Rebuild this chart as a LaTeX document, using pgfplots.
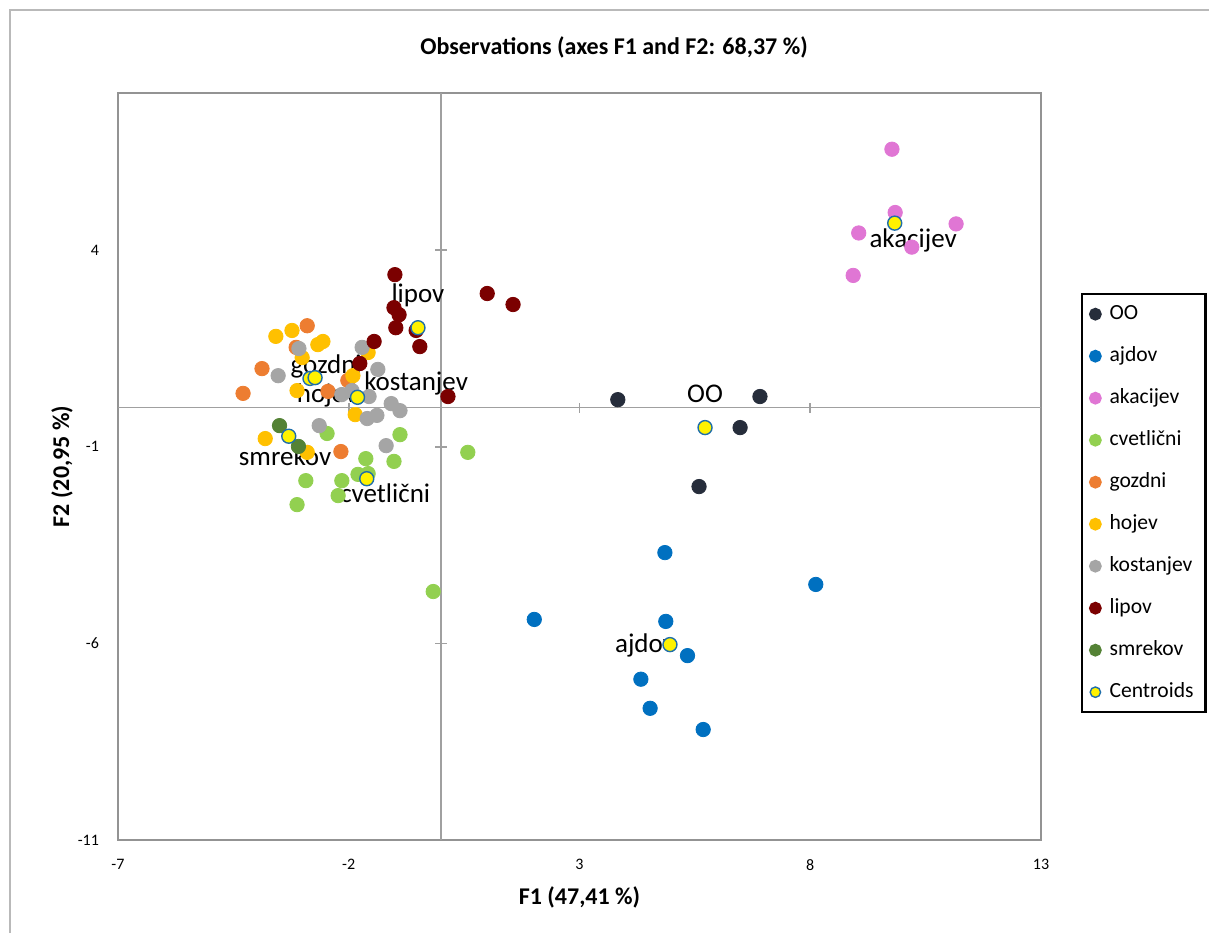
\documentclass[border=0pt]{standalone}
\usepackage{pgfplots}
\pgfplotsset{compat=1.18}
\usepackage{fontspec}
\setmainfont{Carlito}
\definecolor{cOO}{RGB}{38,45,59}
\definecolor{cajdov}{RGB}{0,112,192}
\definecolor{cakac}{RGB}{224,118,212}
\definecolor{ccvet}{RGB}{146,208,80}
\definecolor{cgozd}{RGB}{237,125,49}
\definecolor{choj}{RGB}{255,192,0}
\definecolor{ckost}{RGB}{165,165,165}
\definecolor{clip}{RGB}{123,0,0}
\definecolor{csmr}{RGB}{84,130,53}
\definecolor{ccedge}{RGB}{30,110,170}
\definecolor{zline}{RGB}{160,160,160}
\begin{document}
\begin{tikzpicture}
\useasboundingbox (0pt,0pt) rectangle (604.5pt,466.5pt);
\draw[gray!55, line width=0.7pt] (5pt,0pt) -- (5pt,461.5pt) -- (604.5pt,461.5pt);
\node[font=\fontsize{12}{14}\selectfont\bfseries] at (307pt,443pt) {Observations (axes F1 and F2: 68,37 \%)};
\begin{axis}[
  at={(59pt,46.5pt)}, anchor=south west,
  scale only axis, width=461.5pt, height=373.5pt,
  xmin=-7, xmax=13, ymin=-11, ymax=8,
  axis line style={gray!85, line width=0.8pt},
  xtick={-7,-2,3,8,13}, xticklabels={-7,-2,3,8,13},
  ytick={-11,-6,-1,4}, yticklabels={-11,-6,-1,4},
  major tick length=0pt,
  tick label style={font=\fontsize{8}{9}\selectfont},
  xticklabel style={yshift=-6pt},
  yticklabel style={xshift=-6pt},
  xlabel={F1 (47,41 \%)},
  ylabel={F2 (20,95 \%)},
  label style={font=\fontsize{12}{14}\selectfont\bfseries},
  xlabel style={at={(axis description cs:0.5,-0.0763)}, anchor=center},
  ylabel style={at={(axis description cs:-0.0607,0.5)}, anchor=center, rotate=0},
  clip=false,
  every axis plot/.append style={only marks, mark=*, mark size=3.6pt},
  legend cell align=left,
  legend image code/.code={\draw[#1, mark size=2.6pt] plot coordinates {(0pt,0pt)};},
  legend style={at={(1.0433,0.7323)}, anchor=north west, draw=black, line width=1.2pt,
    font=\fontsize{10.8}{12}\selectfont, inner xsep=4pt, inner ysep=5pt,
    row sep=11pt, column sep=4.5pt,
    nodes={inner sep=0pt, text height=7.5pt, text depth=2.5pt, text width=44pt, align=left},
    /tikz/every odd column/.append style={column sep=4.5pt}},
]
\draw[zline, line width=0.8pt] (axis cs:0,-11) -- (axis cs:0,8);
\draw[zline, line width=0.8pt] (axis cs:-7,0) -- (axis cs:13,0);
\draw[zline, line width=0.8pt] (axis cs:-2,0) ++(0pt,-2.5pt) -- ++(0pt,5pt);
\draw[zline, line width=0.8pt] (axis cs:3,0) ++(0pt,-2.5pt) -- ++(0pt,5pt);
\draw[zline, line width=0.8pt] (axis cs:8,0) ++(0pt,-2.5pt) -- ++(0pt,5pt);
\draw[zline, line width=0.8pt] (axis cs:0,4) ++(-3pt,0pt) -- ++(6pt,0pt);
\draw[zline, line width=0.8pt] (axis cs:0,-1) ++(-3pt,0pt) -- ++(6pt,0pt);
\draw[zline, line width=0.8pt] (axis cs:0,-6) ++(-3pt,0pt) -- ++(6pt,0pt);

\addplot[mark options={fill=cOO, draw=cOO}] coordinates {
(3.83,0.20) (6.91,0.28) (6.48,-0.51) (5.59,-2.01)};
\addlegendentry{OO}
\addplot[mark options={fill=cajdov, draw=cajdov}] coordinates {
(4.85,-3.69) (8.12,-4.50) (2.02,-5.39) (4.87,-5.44) (5.34,-6.31) (4.33,-6.91) (4.53,-7.65) (5.68,-8.19)};
\addlegendentry{ajdov}
\addplot[mark options={fill=cakac, draw=cakac}] coordinates {
(9.77,6.57) (9.84,4.96) (11.16,4.67) (9.05,4.44) (10.20,4.08) (8.93,3.36)};
\addlegendentry{akacijev}
\addplot[mark options={fill=ccvet, draw=ccvet}] coordinates {
(-2.47,-0.66) (-0.89,-0.69) (-1.63,-1.30) (-1.02,-1.37) (0.58,-1.14) (-2.93,-1.86)
(-2.15,-1.86) (-1.80,-1.70) (-1.58,-1.68) (-2.23,-2.24) (-3.12,-2.47) (-0.17,-4.68)};
\addlegendentry{cvetlični}
\addplot[mark options={fill=cgozd, draw=cgozd}] coordinates {
(-2.90,2.08) (-3.14,1.53) (-3.88,0.99) (-4.29,0.36) (-2.45,0.41) (-2.02,0.69) (-2.17,-1.12)};
\addlegendentry{gozdni}
\addplot[mark options={fill=choj, draw=choj}] coordinates {
(-3.58,1.81) (-3.23,1.96) (-2.67,1.60) (-2.56,1.68) (-3.01,1.27) (-3.12,0.43)
(-1.58,1.40) (-1.91,0.81) (-1.86,-0.18) (-3.81,-0.79) (-2.90,-1.14)};
\addlegendentry{hojev}
\addplot[mark options={fill=ckost, draw=ckost}] coordinates {
(-3.08,1.50) (-3.53,0.81) (-1.71,1.53) (-1.37,0.97) (-1.56,0.28) (-1.08,0.10)
(-0.89,-0.08) (-1.60,-0.28) (-1.39,-0.20) (-2.64,-0.46) (-1.19,-0.97) (-2.15,0.33) (-1.93,0.43)};
\addlegendentry{kostanjev}
\addplot[mark options={fill=clip, draw=clip}] coordinates {
(-1.00,3.38) (1.00,2.90) (1.56,2.62) (-1.02,2.54) (-0.91,2.36) (-0.98,2.03)
(-0.54,1.96) (-0.46,1.55) (-1.45,1.68) (-1.76,1.12) (0.15,0.28)};
\addlegendentry{lipov}
\addplot[mark options={fill=csmr, draw=csmr}] coordinates {
(-3.50,-0.46) (-3.09,-0.99)};
\addlegendentry{smrekov}
\addplot[mark size=3.5pt, mark options={fill=yellow, draw=ccedge, line width=0.7pt}] coordinates {
(5.72,-0.51) (4.96,-6.03) (9.83,4.69) (-1.61,-1.81) (-2.84,0.74) (-2.73,0.76) (-1.81,0.26) (-0.50,2.03) (-3.30,-0.73)};
\addlegendentry{Centroids}

\begin{scope}[every node/.style={font=\fontsize{13.5}{15}\selectfont, inner sep=0pt}]
\node at (axis cs:5.72,0.36) {OO};
\node at (axis cs:10.23,4.25) {akacijev};
\node at (axis cs:-0.50,2.85) {lipov};
\node at (axis cs:4.42,-6.05) {ajdov};
\node at (axis cs:-3.38,-1.25) {smrekov};
\node at (axis cs:-1.21,-2.19) {cvetlični};
\node at (axis cs:-2.49,1.04) {gozdni};
\node at (axis cs:-2.47,0.31) {hojev};
\node at (axis cs:-0.54,0.61) {kostanjev};
\end{scope}
\end{axis}
\end{tikzpicture}
\end{document}
